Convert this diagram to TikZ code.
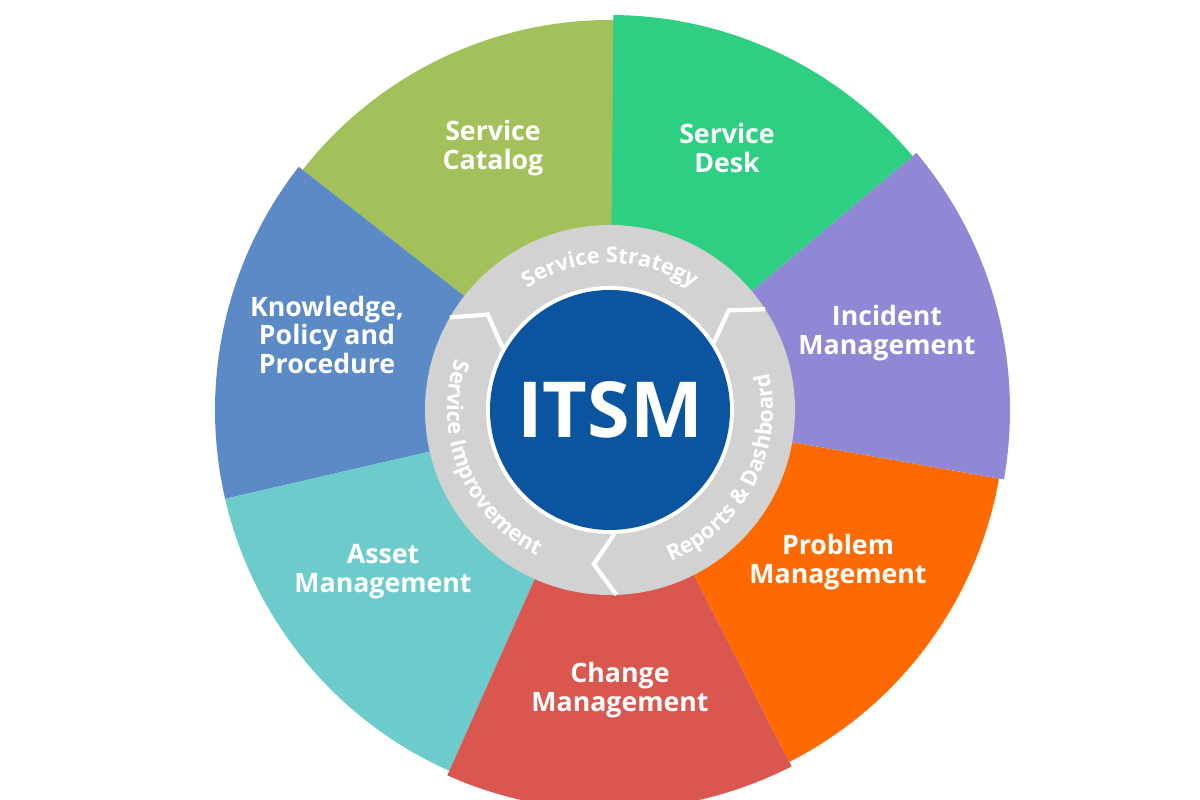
\documentclass[tikz,border=0pt]{standalone}
\usepackage{fontspec}
\setmainfont{Open Sans}
\usetikzlibrary{calc, decorations.text}
\definecolor{catalog}{HTML}{A3C15A}
\definecolor{desk}{HTML}{2ECF82}
\definecolor{incident}{HTML}{9088D4}
\definecolor{problem}{HTML}{FF6A00}
\definecolor{change}{HTML}{D9574F}
\definecolor{asset}{HTML}{6CCBCB}
\definecolor{knowledge}{HTML}{5B8AC6}
\definecolor{ring}{HTML}{D2D2D2}
\definecolor{core}{HTML}{0B55A0}
\newcommand{\ringfont}{\bfseries\fontsize{6.2}{7}\selectfont\color{white}}
\tikzstyle{label} = [text=white, font=\bfseries\fontsize{7.6}{8.2}\selectfont, align=center, inner sep=0]
\tikzset{ringtext/.style={decoration={text along path, text align=center, text={|\ringfont|#1}}, decorate}}
\tikzstyle{chevron} = [draw=white, line width=1.2pt]

\begin{document}
\begin{tikzpicture}
\useasboundingbox (0,0) rectangle (12,8);
\coordinate (C) at (6.1,3.9);

% outer sectors
\fill[catalog]   (C) -- ++(88:3.9)   arc (88:142:3.9)   -- cycle;
\fill[knowledge] (C) -- ++(142:3.95) arc (142:193:3.95) -- cycle;
\fill[asset]     (C) -- ++(193:3.95) arc (193:246:3.95) -- cycle;
\fill[change]    (C) -- ++(246:4.0)  arc (246:297:4.0)  -- cycle;
\fill[problem]   (C) -- ++(297:3.95) arc (297:350:3.95) -- cycle;
\fill[incident]  (C) -- ++(350:4.0)  arc (350:400:4.0)  -- cycle;
\fill[desk]      (C) -- ++(40:3.95)  arc (40:89.5:3.95) -- cycle;

% ring and core
\fill[ring] (C) circle (1.85);
\fill[white] (C) circle (1.24);
\node[circle, fill=core, minimum size=2.4cm, inner sep=0, text=white, font=\bfseries\fontsize{22}{26}\selectfont] (itsm) at (C) {ITSM};

% chevrons
\draw[chevron] ($(C)+(33:1.85)$) -- ($(C)+(40:1.55)$) -- ($(C)+(33:1.24)$);
\draw[chevron] ($(C)+(-88:1.85)$) -- ($(C)+(-96:1.55)$) -- ($(C)+(-88:1.24)$);
\draw[chevron] ($(C)+(150:1.85)$) -- ($(C)+(142:1.55)$) -- ($(C)+(150:1.24)$);

% ring texts
\path[ringtext={Service Strategy}] ($(C)+(135:1.47)$) arc (135:45:1.47);
\path[ringtext={Reports {\&} Dashboard}] ($(C)+(-80:1.63)$) arc (-80:25:1.63);
\path[ringtext={Service Improvement}] ($(C)+(150:1.63)$) arc (150:255:1.63);

% labels
\node[label] (cat) at (4.93,6.52) {Service\\Catalog};
\node[label] (dsk) at (7.27,6.52) {Service\\Desk};
\node[label] (inc) at (8.87,4.67) {Incident\\Management};
\node[label] (prb) at (8.38,2.38) {Problem\\Management};
\node[label] (chg) at (6.20,1.10) {Change\\Management};
\node[label] (ast) at (3.83,2.28) {Asset\\Management};
\node[label] (knw) at (3.27,4.65) {Knowledge,\\Policy and\\Procedure};

\end{tikzpicture}
\end{document}
